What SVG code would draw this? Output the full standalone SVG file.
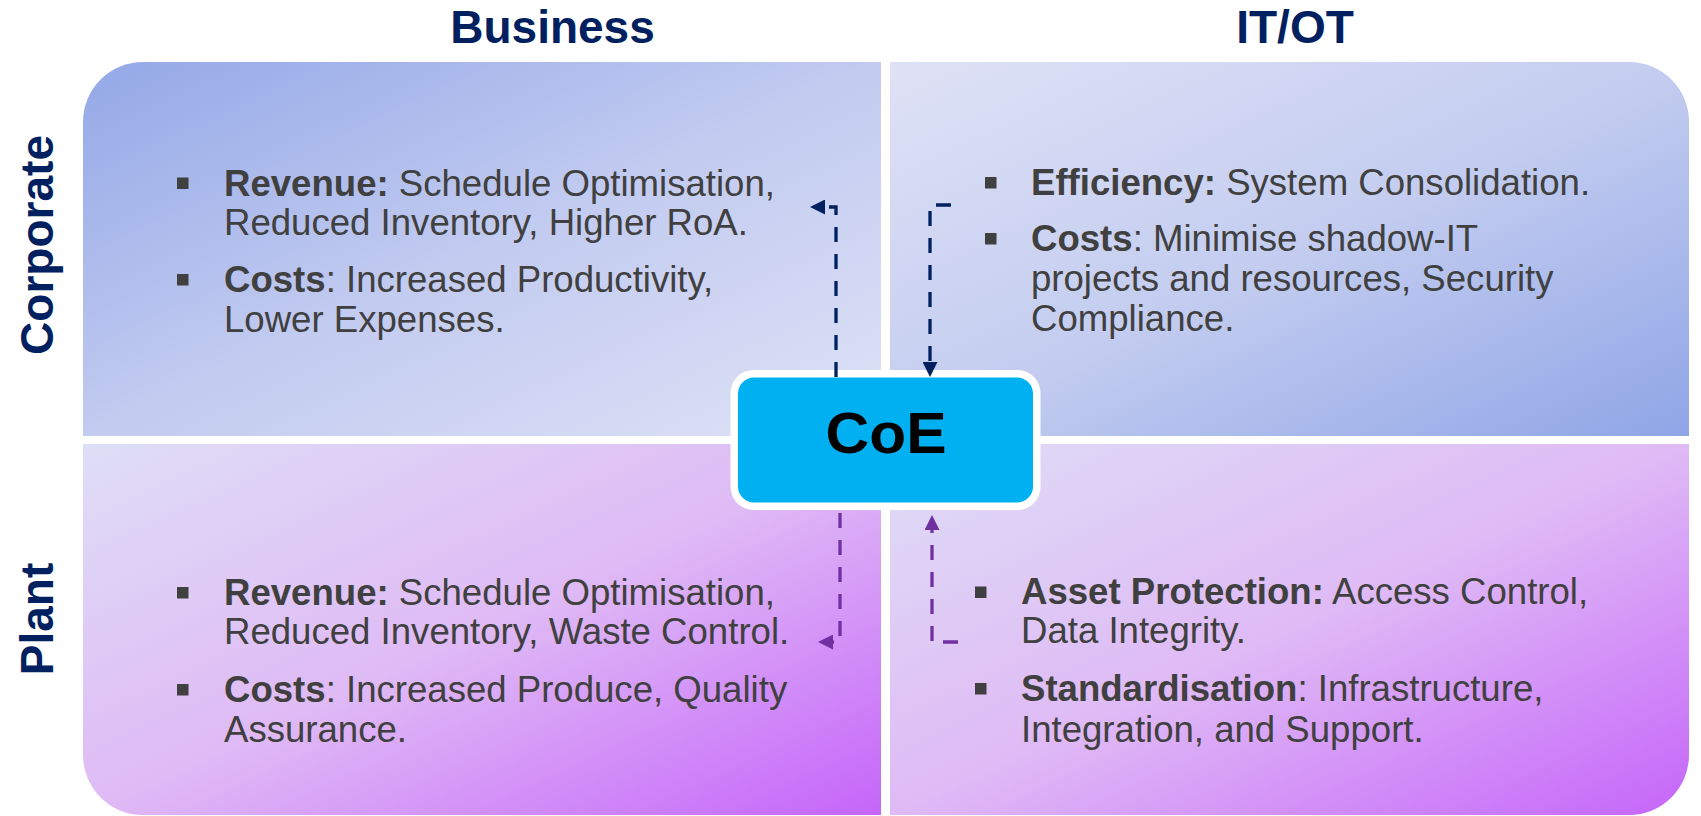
<svg xmlns="http://www.w3.org/2000/svg" width="1701" height="816" viewBox="0 0 1701 816">
<style>
  .t { font-family: "Liberation Sans", Arial, sans-serif; font-size: 36.6px; fill: #404040; }
  .b { font-weight: bold; }
  .hdr { font-family: "Liberation Sans", Arial, sans-serif; font-size: 46px; font-weight: bold; fill: #002060; text-anchor: middle; }
  .bul { fill: #404040; }
  .con { fill: none; stroke-width: 3.3; stroke-dasharray: 15 12; }
  .nv { stroke: #002060; }
  .pu { stroke: #7030A0; }
</style>
<defs>
  <linearGradient id="gTL" x1="0" y1="0" x2="1" y2="1">
    <stop offset="0" stop-color="#93A8E7"/>
    <stop offset="0.5" stop-color="#C2CBF0"/>
    <stop offset="1" stop-color="#DFE2F6"/>
  </linearGradient>
  <linearGradient id="gTR" x1="0" y1="0" x2="1" y2="1">
    <stop offset="0" stop-color="#DFE2F6"/>
    <stop offset="0.5" stop-color="#C4CDF0"/>
    <stop offset="1" stop-color="#8FA5E6"/>
  </linearGradient>
  <linearGradient id="gB" x1="0" y1="0" x2="1" y2="1">
    <stop offset="0" stop-color="#DEDEF6"/>
    <stop offset="0.5" stop-color="#DFBAF5"/>
    <stop offset="1" stop-color="#C565F9"/>
  </linearGradient>
  <marker id="aN" viewBox="0 0 15 15" refX="0" refY="7.5" markerWidth="15" markerHeight="15" markerUnits="userSpaceOnUse" orient="auto">
    <path d="M0,0 L15,7.5 L0,15 Z" fill="#002060"/>
  </marker>
  <marker id="aP" viewBox="0 0 15 15" refX="0" refY="7.5" markerWidth="15" markerHeight="15" markerUnits="userSpaceOnUse" orient="auto">
    <path d="M0,0 L15,7.5 L0,15 Z" fill="#7030A0"/>
  </marker>
</defs>

<rect width="1701" height="816" fill="#FFFFFF"/>

<g id="headers">
  <text class="hdr" x="552.5" y="43">Business</text>
  <text class="hdr" x="1295" y="43">IT/OT</text>
  <text class="hdr" transform="translate(53,245) rotate(-90)" textLength="220" lengthAdjust="spacingAndGlyphs">Corporate</text>
  <text class="hdr" transform="translate(53,619) rotate(-90)">Plant</text>
</g>

<g id="q-corporate-business">
  <path d="M83,436 V122 A60,60 0 0 1 143,62 H881 V436 Z" fill="url(#gTL)"/>
  <rect class="bul" x="177" y="177.5" width="11.5" height="11.5"/>
  <text class="t" x="224" y="195.5"><tspan class="b">Revenue:</tspan> Schedule Optimisation,</text>
  <text class="t" x="224" y="235">Reduced Inventory, Higher RoA.</text>
  <rect class="bul" x="177" y="274" width="11.5" height="11.5"/>
  <text class="t" x="224" y="292"><tspan class="b">Costs</tspan>: Increased Productivity,</text>
  <text class="t" x="224" y="331.5">Lower Expenses.</text>
</g>

<g id="q-corporate-itot">
  <path d="M890,62 H1629 A60,60 0 0 1 1689,122 V436 H890 Z" fill="url(#gTR)"/>
  <rect class="bul" x="985" y="177" width="11.5" height="11.5"/>
  <text class="t" x="1031" y="195"><tspan class="b">Efficiency:</tspan> System Consolidation.</text>
  <rect class="bul" x="985" y="233" width="11.5" height="11.5"/>
  <text class="t" x="1031" y="251"><tspan class="b">Costs</tspan>: Minimise shadow-IT</text>
  <text class="t" x="1031" y="290.5">projects and resources, Security</text>
  <text class="t" x="1031" y="330.5">Compliance.</text>
</g>

<g id="q-plant-business">
  <path d="M83,444 H881 V815 H143 A60,60 0 0 1 83,755 Z" fill="url(#gB)"/>
  <rect class="bul" x="177" y="587" width="11.5" height="11.5"/>
  <text class="t" x="224" y="605"><tspan class="b">Revenue:</tspan> Schedule Optimisation,</text>
  <text class="t" x="224" y="644">Reduced Inventory, Waste Control.</text>
  <rect class="bul" x="177" y="684" width="11.5" height="11.5"/>
  <text class="t" x="224" y="701.7"><tspan class="b">Costs</tspan>: Increased Produce, Quality</text>
  <text class="t" x="224" y="741.7">Assurance.</text>
</g>

<g id="q-plant-itot">
  <path d="M890,444 H1689 V755 A60,60 0 0 1 1629,815 H890 Z" fill="url(#gB)"/>
  <rect class="bul" x="975" y="586.5" width="11.5" height="11.5"/>
  <text class="t" x="1021" y="604.3"><tspan class="b">Asset Protection:</tspan> Access Control,</text>
  <text class="t" x="1021" y="643.3">Data Integrity.</text>
  <rect class="bul" x="975" y="683" width="11.5" height="11.5"/>
  <text class="t" x="1021" y="701"><tspan class="b">Standardisation</tspan>: Infrastructure,</text>
  <text class="t" x="1021" y="741.7">Integration, and Support.</text>
</g>

<g id="coe">
  <rect x="730.5" y="370" width="310" height="140" rx="23" fill="#FFFFFF"/>
  <rect x="738" y="377.5" width="295" height="125" rx="16" fill="#00B0F0"/>
  <text x="886" y="453" font-family="Liberation Sans, Arial, sans-serif" font-size="57" font-weight="bold" fill="#000000" text-anchor="middle" textLength="121" lengthAdjust="spacingAndGlyphs">CoE</text>
</g>

<g id="connectors">
  <path class="con nv" d="M836,377 V207 H825" marker-end="url(#aN)"/>
  <path class="con nv" d="M951,205 H930 V362" marker-end="url(#aN)"/>
  <path class="con pu" d="M840,513 V642 H833" marker-end="url(#aP)"/>
  <path class="con pu" d="M958,642 H932 V530" marker-end="url(#aP)"/>
</g>
</svg>
